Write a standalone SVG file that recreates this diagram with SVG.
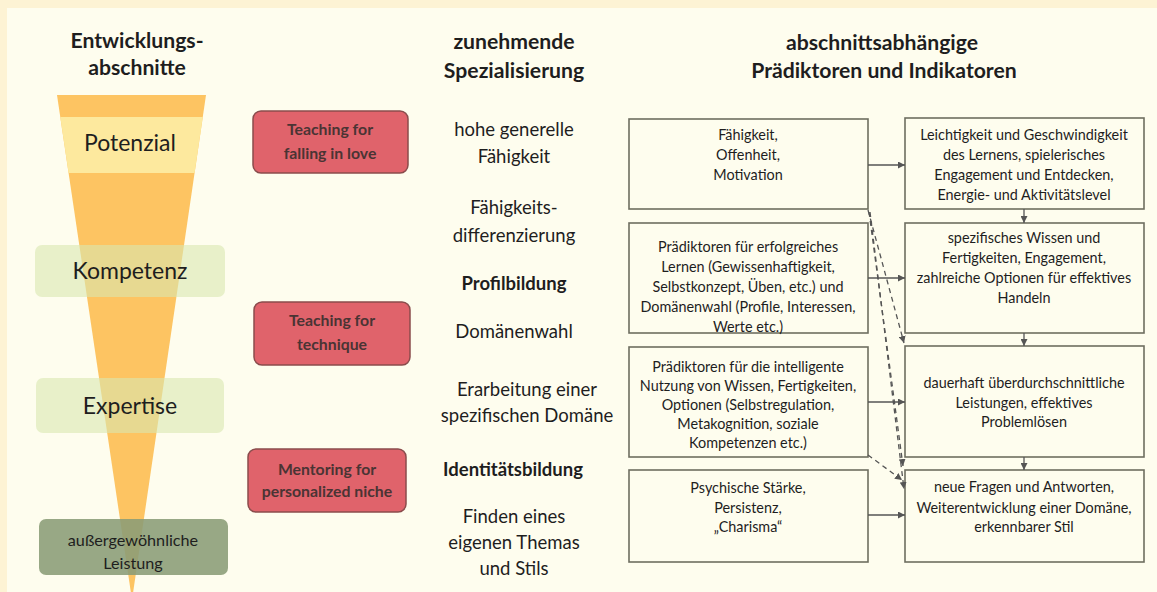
<svg xmlns="http://www.w3.org/2000/svg" width="1157" height="592" viewBox="0 0 1157 592">
<defs>
<style>
text{font-family:Lato,"Liberation Sans",sans-serif;fill:#1e1e1e;text-anchor:middle}
.h{font-size:21.2px;font-weight:bold}
.stage{font-size:23px}
.red rect{fill:#e0636b;stroke:#8a4c4c;stroke-width:1.5}
.red text{font-size:15.8px;font-weight:bold;fill:#4a3434}
.mid{font-size:18.5px}
.midb{font-size:18.5px;font-weight:bold}
.box rect{fill:none;stroke:#6e6e60;stroke-width:1.6}
.box text{font-size:14.4px}
.conn line{stroke:#555;stroke-width:1.3}
.dash line{stroke:#555;stroke-width:1.3;stroke-dasharray:5 4}
</style>
<clipPath id="tri"><polygon points="57,95 206,95 132,600"/></clipPath>
<marker id="ah" viewBox="0 0 10 10" refX="10" refY="5" markerWidth="7" markerHeight="7" orient="auto" markerUnits="userSpaceOnUse"><path d="M0,0 L10,5 L0,10 z" fill="#555"/></marker>
</defs>
<rect x="0" y="0" width="1157" height="592" fill="#fdf3d4"/>
<rect x="7" y="8" width="1150" height="584" fill="#fefdee"/>

<g id="titles">
<text class="h" x="137" y="48">Entwicklungs-</text>
<text class="h" x="137" y="75">abschnitte</text>
<text class="h" x="514" y="49">zunehmende</text>
<text class="h" x="514" y="78">Spezialisierung</text>
<text class="h" x="882" y="50">abschnittsabhängige</text>
<text class="h" x="884" y="78">Prädiktoren und Indikatoren</text>
</g>

<g id="funnel">
<polygon points="57,95 206,95 132,600" fill="#fdc462"/>
<rect x="40" y="117" width="180" height="56" fill="#fde99e" clip-path="url(#tri)"/>
<text class="stage" x="130" y="151">Potenzial</text>
</g>

<g id="kompetenz">
<rect x="35" y="245" width="190" height="52" rx="7" fill="#d8e8b0" fill-opacity="0.6"/>
<text class="stage" x="130" y="279">Kompetenz</text>
</g>
<g id="expertise">
<rect x="36" y="378" width="188" height="55" rx="7" fill="#d8e8b0" fill-opacity="0.6"/>
<text class="stage" x="130" y="414">Expertise</text>
</g>
<g id="leistung">
<rect x="39" y="519" width="189" height="56" rx="7" fill="#8a9c76" fill-opacity="0.88"/>
<text x="133" y="546" style="font-size:16.2px">außergewöhnliche</text>
<text x="133" y="569" style="font-size:16.2px">Leistung</text>
</g>

<g id="red1" class="red">
<rect x="253" y="111" width="155" height="62" rx="8"/>
<text x="330" y="135">Teaching for</text>
<text x="330" y="159">falling in love</text>
</g>
<g id="red2" class="red">
<rect x="254" y="302" width="156" height="63" rx="8"/>
<text x="332" y="326">Teaching for</text>
<text x="332" y="350">technique</text>
</g>
<g id="red3" class="red">
<rect x="248" y="449" width="158" height="63" rx="8"/>
<text x="327" y="475">Mentoring for</text>
<text x="327" y="497">personalized niche</text>
</g>

<g id="middle">
<text class="mid" x="514" y="136">hohe generelle</text>
<text class="mid" x="514" y="163">Fähigkeit</text>
<text class="mid" x="514" y="214">Fähigkeits-</text>
<text class="mid" x="514" y="242">differenzierung</text>
<text class="midb" x="514" y="290">Profilbildung</text>
<text class="mid" x="514" y="338">Domänenwahl</text>
<text class="mid" x="527" y="396">Erarbeitung einer</text>
<text class="mid" x="527" y="422">spezifischen Domäne</text>
<text class="midb" x="513" y="476">Identitätsbildung</text>
<text class="mid" x="514" y="523">Finden eines</text>
<text class="mid" x="514" y="549">eigenen Themas</text>
<text class="mid" x="514" y="575">und Stils</text>
</g>

<g id="boxA" class="box">
<rect x="629" y="119" width="239" height="90"/>
<text x="748" y="140">Fähigkeit,</text>
<text x="748" y="160">Offenheit,</text>
<text x="748" y="180">Motivation</text>
</g>
<g id="boxB" class="box">
<rect x="629" y="223" width="239" height="110"/>
<text x="748" y="252">Prädiktoren für erfolgreiches</text>
<text x="748" y="272">Lernen (Gewissenhaftigkeit,</text>
<text x="748" y="292">Selbstkonzept, Üben, etc.) und</text>
<text x="748" y="312">Domänenwahl (Profile, Interessen,</text>
<text x="748" y="332">Werte etc.)</text>
</g>
<g id="boxC" class="box">
<rect x="629" y="347" width="239" height="110"/>
<text x="748" y="372">Prädiktoren für die intelligente</text>
<text x="748" y="391">Nutzung von Wissen, Fertigkeiten,</text>
<text x="748" y="410">Optionen (Selbstregulation,</text>
<text x="748" y="429">Metakognition, soziale</text>
<text x="748" y="448">Kompetenzen etc.)</text>
</g>
<g id="boxD" class="box">
<rect x="629" y="470" width="239" height="92"/>
<text x="748" y="493">Psychische Stärke,</text>
<text x="748" y="513">Persistenz,</text>
<text x="748" y="532">„Charisma“</text>
</g>
<g id="boxE" class="box">
<rect x="905" y="118" width="239" height="91"/>
<text x="1024" y="140">Leichtigkeit und Geschwindigkeit</text>
<text x="1024" y="160">des Lernens, spielerisches</text>
<text x="1024" y="180">Engagement und Entdecken,</text>
<text x="1024" y="200">Energie- und Aktivitätslevel</text>
</g>
<g id="boxF" class="box">
<rect x="905" y="223" width="239" height="110"/>
<text x="1024" y="243">spezifisches Wissen und</text>
<text x="1024" y="263">Fertigkeiten, Engagement,</text>
<text x="1024" y="283">zahlreiche Optionen für effektives</text>
<text x="1024" y="303">Handeln</text>
</g>
<g id="boxG" class="box">
<rect x="905" y="346" width="239" height="111"/>
<text x="1024" y="388">dauerhaft überdurchschnittliche</text>
<text x="1024" y="408">Leistungen, effektives</text>
<text x="1024" y="427">Problemlösen</text>
</g>
<g id="boxH" class="box">
<rect x="905" y="470" width="239" height="92"/>
<text x="1024" y="492">neue Fragen und Antworten,</text>
<text x="1024" y="513">Weiterentwicklung einer Domäne,</text>
<text x="1024" y="532">erkennbarer Stil</text>
</g>

<g id="connectors">
<g class="conn">
<line x1="868" y1="165" x2="905" y2="165" marker-end="url(#ah)"/>
<line x1="868" y1="278" x2="905" y2="278" marker-end="url(#ah)"/>
<line x1="868" y1="402" x2="905" y2="402" marker-end="url(#ah)"/>
<line x1="868" y1="515" x2="905" y2="515" marker-end="url(#ah)"/>
<line x1="1024" y1="209" x2="1024" y2="223" marker-end="url(#ah)"/>
<line x1="1024" y1="333" x2="1024" y2="346" marker-end="url(#ah)"/>
<line x1="1024" y1="457" x2="1024" y2="470" marker-end="url(#ah)"/>
</g>
<g class="dash">
<line x1="868" y1="210" x2="904" y2="343" marker-end="url(#ah)"/>
<line x1="869" y1="212" x2="903" y2="466" marker-end="url(#ah)"/>
<line x1="870" y1="212" x2="904" y2="489" marker-end="url(#ah)"/>
<line x1="868" y1="455" x2="902" y2="480" marker-end="url(#ah)"/>
</g>
</g>
</svg>
